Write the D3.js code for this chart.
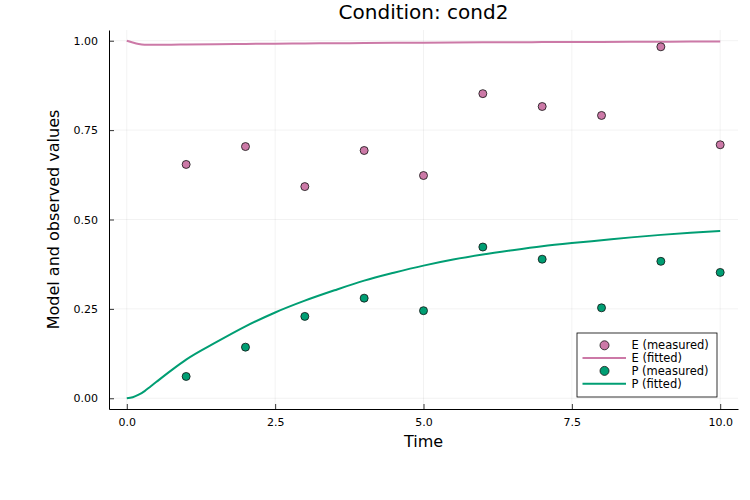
<!DOCTYPE html>
<html><head><meta charset="utf-8">
<script src="https://cdn.jsdelivr.net/npm/d3@7"></script>
<style>body{margin:0;background:#fff}svg{display:block}text{font-family:"DejaVu Sans",sans-serif}</style>
</head><body>
<svg id="c" width="750" height="500"></svg>
<script>
const title = "Condition: cond2";
const xLabel = "Time";
const yLabel = "Model and observed values";
const xTicks = [0, 2.5, 5, 7.5, 10];
const yTicks = [0, 0.25, 0.5, 0.75, 1.0];
const obsTime = [1, 2, 3, 4, 5, 6, 7, 8, 9, 10];
const eMeasured = [0.654, 0.704, 0.592, 0.693, 0.623, 0.852, 0.816, 0.791, 0.983, 0.709];
const pMeasured = [0.061, 0.143, 0.229, 0.280, 0.245, 0.423, 0.389, 0.253, 0.383, 0.352];
const fitTime = [0, 0.1, 0.2, 0.3, 0.4, 0.5, 0.75, 1, 1.5, 2, 2.5, 3, 3.5, 4, 4.5, 5, 5.5, 6, 6.5, 7, 7.5, 8, 8.5, 9, 9.5, 10];
const eFitted = [1.0, 0.995, 0.991, 0.989, 0.9886, 0.9888, 0.989, 0.9895, 0.9903, 0.991, 0.9917, 0.9923, 0.9929, 0.9935, 0.994, 0.9945, 0.995, 0.9954, 0.9958, 0.9961, 0.9964, 0.9967, 0.997, 0.9973, 0.9976, 0.9978];
const pFitted = [0, 0.003, 0.010, 0.020, 0.033, 0.046, 0.078, 0.108, 0.156, 0.201, 0.240, 0.273, 0.302, 0.329, 0.351, 0.371, 0.388, 0.402, 0.414, 0.425, 0.434, 0.442, 0.450, 0.457, 0.463, 0.468];
const colE = "#CC79A7", colP = "#009E73";

const svg = d3.select("#c");
const L = 109, R = 738, T = 30, B = 409;
const x = d3.scaleLinear().domain([-0.3, 10.3]).range([L, R]);
const y = d3.scaleLinear().domain([-0.03, 1.03]).range([B, T]);

// grid
svg.append("g").selectAll("line").data(xTicks).join("line")
  .attr("x1", d => x(d)).attr("x2", d => x(d)).attr("y1", T).attr("y2", B)
  .attr("stroke", "#000").attr("stroke-opacity", 0.1).attr("stroke-width", 0.5);
svg.append("g").selectAll("line").data(yTicks).join("line")
  .attr("y1", d => y(d)).attr("y2", d => y(d)).attr("x1", L).attr("x2", R)
  .attr("stroke", "#000").attr("stroke-opacity", 0.1).attr("stroke-width", 0.5);

// axes
const xAxis = d3.axisBottom(x).tickValues(xTicks).tickFormat(d3.format(".1f")).tickSizeInner(-5).tickSizeOuter(0).tickPadding(9);
const gx = svg.append("g").attr("transform", `translate(0,${B})`).call(xAxis);
const yAxis = d3.axisLeft(y).tickValues(yTicks).tickFormat(d3.format(".2f")).tickSizeInner(-5).tickSizeOuter(0).tickPadding(11);
const gy = svg.append("g").attr("transform", `translate(${L},0)`).call(yAxis);
[gx, gy].forEach(g => {
  g.select(".domain").attr("stroke", "#000").attr("stroke-width", 1);
  g.selectAll(".tick line").attr("stroke", "#000").attr("stroke-width", 0.8);
  g.selectAll(".tick text").attr("font-family", "DejaVu Sans").attr("font-size", 11).attr("fill", "#000");
});

// lines
const line = d3.line().curve(d3.curveMonotoneX);
svg.append("clipPath").attr("id", "clp").append("rect").attr("x", L).attr("y", T).attr("width", R - L).attr("height", B - T);
const plot = svg.append("g").attr("clip-path", "url(#clp)");
plot.append("path").attr("d", line(fitTime.map((t, i) => [x(t), y(eFitted[i])])))
  .attr("fill", "none").attr("stroke", colE).attr("stroke-width", 2);
plot.append("path").attr("d", line(fitTime.map((t, i) => [x(t), y(pFitted[i])])))
  .attr("fill", "none").attr("stroke", colP).attr("stroke-width", 2);

// points
svg.append("g").selectAll("circle").data(obsTime).join("circle")
  .attr("cx", d => x(d)).attr("cy", (d, i) => y(eMeasured[i])).attr("r", 4)
  .attr("fill", colE).attr("stroke", "#111").attr("stroke-width", 0.8);
svg.append("g").selectAll("circle").data(obsTime).join("circle")
  .attr("cx", d => x(d)).attr("cy", (d, i) => y(pMeasured[i])).attr("r", 4)
  .attr("fill", colP).attr("stroke", "#111").attr("stroke-width", 0.8);

// labels
svg.append("text").attr("x", (L + R) / 2).attr("y", 19).attr("text-anchor", "middle").attr("font-size", 20).text(title);
svg.append("text").attr("x", (L + R) / 2).attr("y", 447).attr("text-anchor", "middle").attr("font-size", 16).text(xLabel);
svg.append("text").attr("transform", `translate(59,${(T + B) / 2}) rotate(-90)`).attr("text-anchor", "middle").attr("font-size", 16).text(yLabel);

// legend
const lg = svg.append("g").attr("transform", "translate(577,333)");
lg.append("rect").attr("x", 0).attr("y", 0).attr("width", 140).attr("height", 64).attr("fill", "#fff").attr("stroke", "#000").attr("stroke-width", 0.8);
const items = [
  {label: "E (measured)", color: colE, type: "pt"},
  {label: "E (fitted)", color: colE, type: "ln"},
  {label: "P (measured)", color: colP, type: "pt"},
  {label: "P (fitted)", color: colP, type: "ln"}
];
items.forEach((it, i) => {
  const yy = 12.3 + i * 12.8;
  if (it.type === "pt") lg.append("circle").attr("cx", 27.5).attr("cy", yy).attr("r", 4.5).attr("fill", it.color).attr("stroke", "#111").attr("stroke-width", 0.8);
  else lg.append("line").attr("x1", 5.5).attr("x2", 49).attr("y1", yy).attr("y2", yy).attr("stroke", it.color).attr("stroke-width", 2);
  lg.append("text").attr("x", 54.5).attr("y", yy + 4).attr("font-size", 11.5).text(it.label);
});
</script>
</body></html>
